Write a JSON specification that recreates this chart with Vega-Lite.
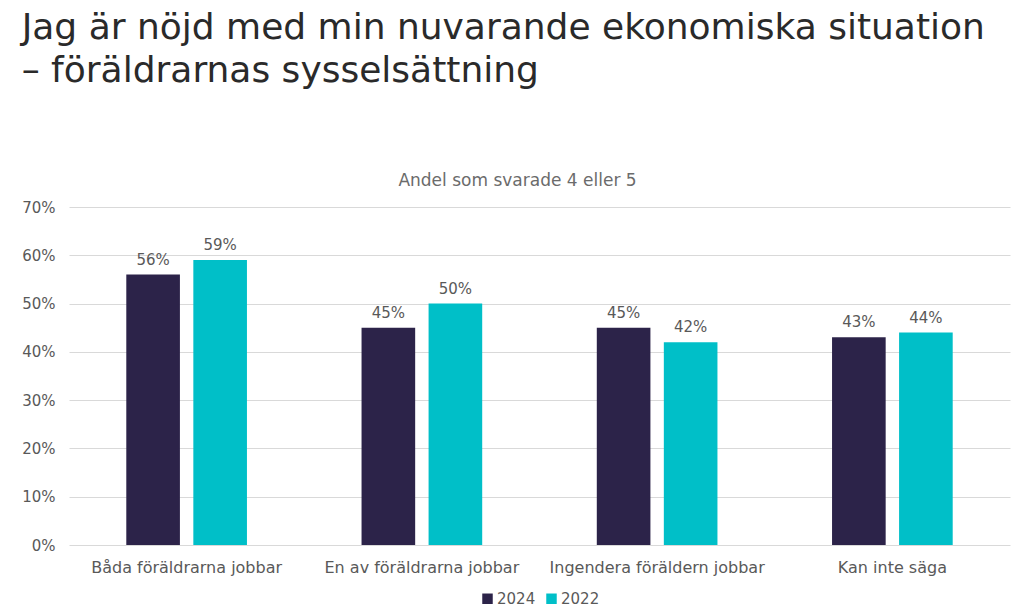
{
  "$schema": "https://vega.github.io/schema/vega-lite/v6.json",
  "width": 1024,
  "height": 615,
  "autosize": {"type": "fit", "contains": "padding"},
  "padding": {"left": 21, "right": 14, "top": 10, "bottom": 8},
  "background": "white",
  "config": {"view": {"stroke": null}, "font": "DejaVu Sans", "legend": {"layout": {"bottom": {"anchor": "middle"}}}},
  "title": {
    "text": ["Jag är nöjd med min nuvarande ekonomiska situation", "– föräldrarnas sysselsättning"],
    "anchor": "start",
    "frame": "bounds",
    "fontSize": 36,
    "font": "DejaVu Sans",
    "fontWeight": "normal",
    "color": "#2a2a2a",
    "lineHeight": 43,
    "offset": 81
  },
  "data": {
    "values": [
      {"cat": "Båda föräldrarna jobbar", "year": "2024", "value": 0.56},
      {"cat": "Båda föräldrarna jobbar", "year": "2022", "value": 0.59},
      {"cat": "En av föräldrarna jobbar", "year": "2024", "value": 0.45},
      {"cat": "En av föräldrarna jobbar", "year": "2022", "value": 0.50},
      {"cat": "Ingendera föräldern jobbar", "year": "2024", "value": 0.45},
      {"cat": "Ingendera föräldern jobbar", "year": "2022", "value": 0.42},
      {"cat": "Kan inte säga", "year": "2024", "value": 0.43},
      {"cat": "Kan inte säga", "year": "2022", "value": 0.44}
    ]
  },
  "layer": [
    {
      "mark": {"type": "bar"},
      "encoding": {
        "x": {
          "field": "cat", "type": "nominal",
          "sort": ["Båda föräldrarna jobbar", "En av föräldrarna jobbar", "Ingendera föräldern jobbar", "Kan inte säga"],
          "scale": {"paddingInner": 0.47, "paddingOuter": 0.235},
          "axis": {"orient": "bottom", "title": null, "labelAngle": 0, "labelLimit": 0, "domain": false, "ticks": false, "labelFontSize": 16, "labelColor": "#595959", "labelPadding": 14}
        },
        "xOffset": {"field": "year", "type": "nominal", "sort": ["2024", "2022"], "scale": {"paddingInner": 0.2, "paddingOuter": 0.03}},
        "y": {
          "field": "value", "type": "quantitative",
          "scale": {"domain": [0, 0.7]},
          "axis": {"title": null, "format": ".0%", "values": [0, 0.1, 0.2, 0.3, 0.4, 0.5, 0.6, 0.7], "domain": false, "ticks": false, "gridColor": "#d9d9d9", "labelFontSize": 15, "labelColor": "#595959", "labelPadding": 14}
        },
        "color": {
          "field": "year", "type": "nominal",
          "sort": ["2024", "2022"],
          "scale": {"domain": ["2024", "2022"], "range": ["#2c2349", "#00bfc8"]},
          "legend": {"orient": "bottom", "title": null, "direction": "horizontal", "symbolType": "square", "symbolSize": 110, "symbolStrokeWidth": 0, "labelFontSize": 15, "labelColor": "#595959", "columnPadding": 8, "labelOffset": 2, "offset": 16}
        }
      }
    },
    {
      "mark": {"type": "text", "baseline": "bottom", "dy": -7, "fontSize": 15, "color": "#595959"},
      "encoding": {
        "x": {
          "field": "cat", "type": "nominal",
          "sort": ["Båda föräldrarna jobbar", "En av föräldrarna jobbar", "Ingendera föräldern jobbar", "Kan inte säga"],
          "axis": {"orient": "top", "title": "Andel som svarade 4 eller 5", "labels": false, "ticks": false, "domain": false, "grid": false, "titleFontSize": 17, "titleFontWeight": "normal", "titleColor": "#6b6b6b", "titlePadding": 18, "titleX": 448, "titleAlign": "center"}
        },
        "xOffset": {"field": "year", "type": "nominal", "sort": ["2024", "2022"]},
        "y": {"field": "value", "type": "quantitative"},
        "text": {"field": "value", "type": "quantitative", "format": ".0%"}
      }
    }
  ]
}
